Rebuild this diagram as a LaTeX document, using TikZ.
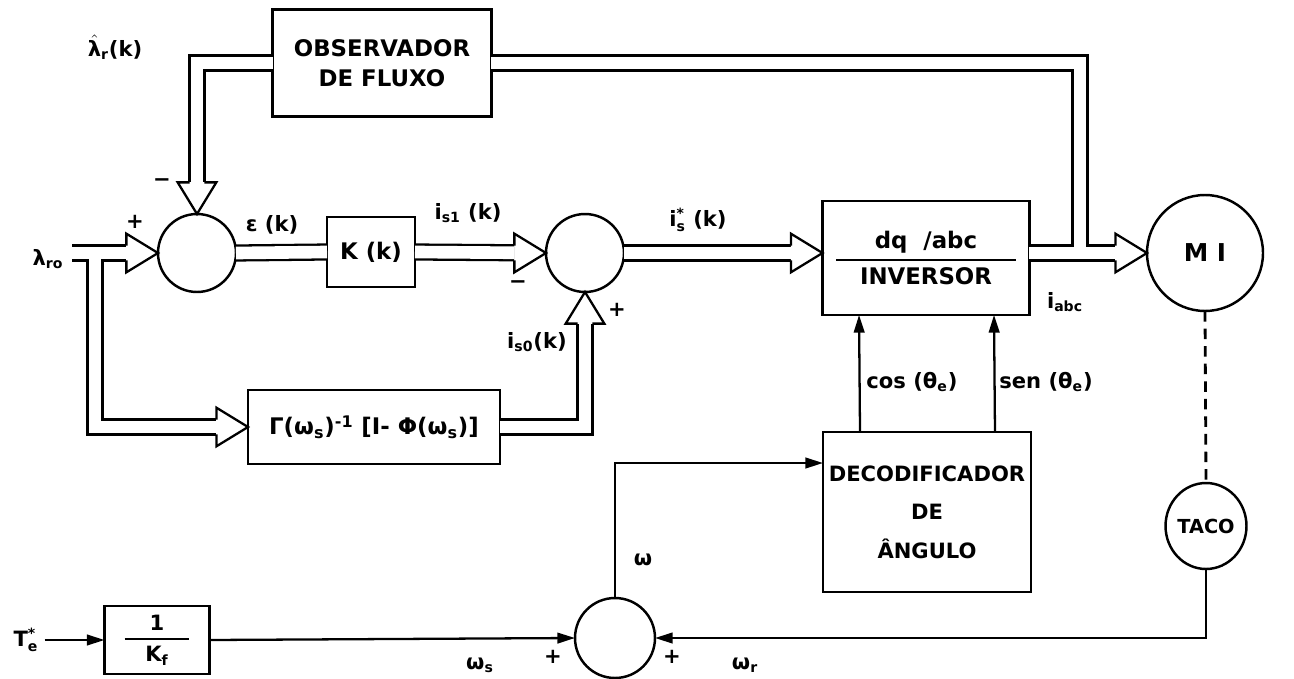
\documentclass[tikz,border=0pt]{standalone}
\usepackage{fontspec}
\usepackage{amsmath}
\setmainfont{DejaVu Sans}
\usetikzlibrary{arrows.meta,shapes.geometric}

\tikzset{
  blk/.style={draw,line width=1.4pt,inner sep=2pt,outer sep=0pt,align=center},
  sumc/.style={circle,draw,line width=1.4pt,minimum size=1.56cm,inner sep=0pt,outer sep=0pt},
  dbl/.style={line width=1.3pt,double,double distance=7.2pt},
  dblin/.style={dbl,shorten >=18pt},
  sig/.style={line width=1.3pt,-{Triangle[length=10pt,width=6pt]}},
}
% cabeca de seta vazada para as linhas duplas
\newcommand\dblhead[2]{\draw[line width=1.3pt,fill=white,line join=miter,shift={(#1)},rotate=#2]
  (-18pt,4.25pt)--(-18pt,11pt)--(0pt,0pt)--(-18pt,-11pt)--(-18pt,-4.25pt);}

\begin{document}
\begin{tikzpicture}[x=0.02cm,y=-0.02cm,font=\fontsize{12}{14}\selectfont\bfseries]
\useasboundingbox (0,0) rectangle (1294,679);
% blocos
\node[blk,minimum width=4.38cm,minimum height=2.14cm,font=\fontsize{13}{17}\selectfont\bfseries] (obs) at (382,63) {OBSERVADOR\\DE FLUXO};
\node[sumc] (s1) at (197,253) {};
\node[blk,minimum width=1.76cm,minimum height=1.4cm,font=\fontsize{13}{15}\selectfont\bfseries] (kk) at (371,252) {K (k)};
\node[sumc] (s2) at (585,253) {};
\node[blk,minimum width=4.14cm,minimum height=2.28cm,font=\fontsize{13}{15}\selectfont\bfseries] (inv) at (926,258)
  {\(\genfrac{}{}{1.2pt}{0}{\hbox to 3.6cm{\hfil dq \ /abc\hfil}}{\text{INVERSOR}}\)};
\node[sumc,minimum size=2.32cm,font=\fontsize{14}{16}\selectfont\bfseries] (mi) at (1205,253) {M I};
\node[ellipse,draw,line width=1.4pt,minimum width=1.56cm,minimum height=1.72cm,inner sep=0pt,
  font=\fontsize{11}{12}\selectfont\bfseries] (taco) at (1206,526) {TACO};
\node[blk,minimum width=4.16cm,minimum height=3.2cm,inner sep=1pt] (dec) at (927,512) {DECODIFICADOR\\[8pt]DE\\[8pt]ÂNGULO};
\node[blk,minimum width=5.04cm,minimum height=1.48cm,font=\fontsize{13}{15}\selectfont\bfseries] (gam) at (374,427)
  {Γ(ω\(_\text{s}\))\(^{\text{-1}}\) [I- Φ(ω\(_\text{s}\))]};
\node[blk,minimum width=2.1cm,minimum height=1.36cm] (kf) at (157,640)
  {\(\genfrac{}{}{1.2pt}{0}{\hbox to 1.3cm{\hfil 1\hfil}}{\text{K}_\text{f}}\)};
\node[sumc,minimum size=1.6cm] (s3) at (615,638) {};
% rotulos
\node (lamhat) at (115,47) {\(\hat{\text{λ}}_\text{r}\)(k)};
\node (lamro) at (48,259) {λ\(_\text{ro}\)};
\node (te) at (26,640) {T\(_\text{e}^\text{*}\)};
\node (eps) at (272,225) {ε (k)};
\node (is1) at (468,213) {i\(_\text{s1}\) (k)};
\node (is0) at (537,342) {i\(_\text{s0}\)(k)};
\node (isx) at (698,220) {i\(_\text{s}^\text{*}\) (k)};
\node (iabc) at (1065,302) {i\(_\text{abc}\)};
\node (cosl) at (912,382) {cos (θ\(_\text{e}\))};
\node (senl) at (1046,382) {sen (θ\(_\text{e}\))};
\node (w) at (643,560) {ω};
\node (ws) at (480,665) {ω\(_\text{s}\)};
\node (wr) at (745,665) {ω\(_\text{r}\)};
\node at (162,183) {\textminus};
\node at (135,222) {+};
\node at (518,285) {\textminus};
\node at (617,310) {+};
\node at (553,657) {+};
\node at (672,657) {+};
% ligacoes duplas
\coordinate (lin) at (72,253);
\coordinate (br) at (95,253);
\draw[dblin] (lin) -- (s1.west); \dblhead{s1.west}{0}
\draw[dblin] (br) |- (gam.west); \dblhead{gam.west}{0}
\draw[white,line width=7.2pt] (86,253) -- (104,253);
\draw[dblin] (obs.west) -| (s1.north); \dblhead{s1.north}{-90}
\draw[dbl] (s1.east) -- (kk.west);
\draw[dblin] (kk.east) -- (s2.west); \dblhead{s2.west}{0}
\draw[dblin] (gam.east) -| (s2.south); \dblhead{s2.south}{90}
\coordinate (invin) at (s2.east -| inv.west);
\draw[dblin] (s2.east) -- (invin); \dblhead{invin}{0}
\coordinate (invout) at (inv.east |- mi.west);
\draw[dblin] (invout) -- (mi.west); \dblhead{mi.west}{0}
\coordinate (fb) at (1080,253);
\draw[dbl] (fb) |- (obs.east);
\draw[white,line width=7.2pt] (1071,253) -- (1089,253);
% ligacoes simples
\draw[sig] ([xshift=-1.34cm]dec.north) -- ([xshift=-1.34cm]inv.south);
\draw[sig] ([xshift=1.36cm]dec.north) -- ([xshift=1.36cm]inv.south);
\draw[sig] (te) -- (kf.west);
\draw[sig] (kf.east) -- (s3.west);
\draw[sig] (s3.north) |- ([yshift=0.98cm]dec.west);
\draw[line width=1.6pt,dash pattern=on 6pt off 4pt] (mi.south) -- (taco.north);
\draw[sig] (taco.south) |- (s3.east);
\end{tikzpicture}
\end{document}
